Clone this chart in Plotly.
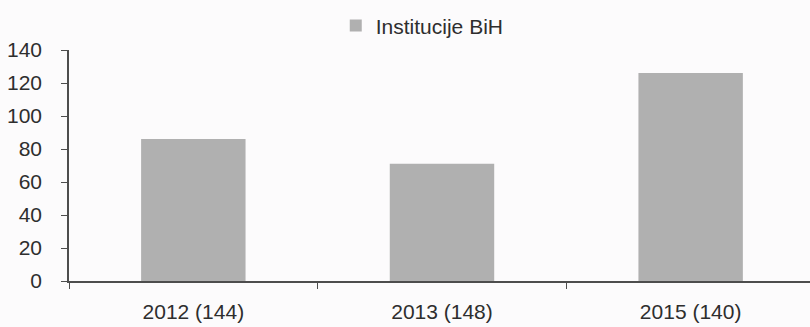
import plotly.graph_objects as go

# Category labels (year and sample size) and values
categories = ["2012 (144)", "2013 (148)", "2015 (140)"]
values = [86, 71, 126]
series_name = "Institucije BiH"
y_ticks = [0, 20, 40, 60, 80, 100, 120, 140]

font_family = "Liberation Sans, Arial, sans-serif"
text_color = "#2e2e2e"
axis_color = "#4d4d4d"

fig = go.Figure()
fig.add_trace(go.Bar(
    x=categories,
    y=values,
    name=series_name,
    marker=dict(color="#b0b0b0", line=dict(width=0)),
    width=0.42,
    showlegend=True,
))

fig.update_layout(
    width=810,
    height=327,
    margin=dict(l=69, r=0, t=50, b=46),
    paper_bgcolor="#fcfbfc",
    plot_bgcolor="#fcfbfc",
    font=dict(family=font_family, size=21, color=text_color),
    showlegend=True,
    legend=dict(
        orientation="h",
        x=0.36, xanchor="left",
        y=1.105, yanchor="middle",
        font=dict(size=21, color=text_color),
        bgcolor="rgba(0,0,0,0)",
        itemwidth=30,
    ),
)

fig.update_xaxes(
    type="category",
    range=[-0.5, 2.48],
    showline=True, linecolor=axis_color, linewidth=1.5,
    ticks="outside", tickson="boundaries", ticklen=6, tickcolor=axis_color,
    showgrid=False, zeroline=False,
    ticklabelstandoff=11,
    tickfont=dict(size=21, color=text_color),
)

fig.update_yaxes(
    range=[0, 140],
    tickvals=y_ticks,
    showline=True, linecolor=axis_color, linewidth=1.5,
    ticks="outside", ticklen=6, tickcolor=axis_color,
    showgrid=False, zeroline=False,
    ticklabelstandoff=15,
    tickfont=dict(size=21, color=text_color),
)

fig.write_html("out.html")
